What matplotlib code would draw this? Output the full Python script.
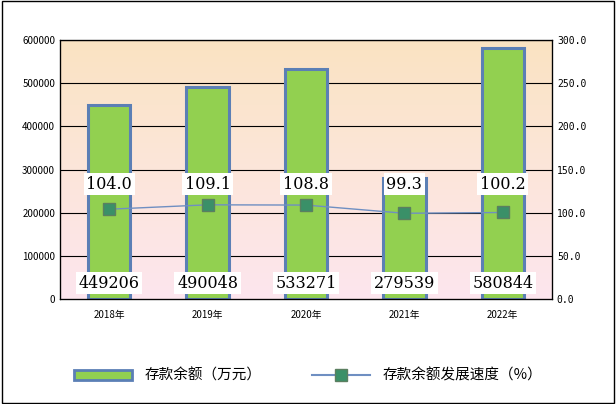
import numpy as np
import matplotlib.pyplot as plt
from matplotlib.patches import Rectangle
from matplotlib.lines import Line2D
from matplotlib.colors import LinearSegmentedColormap

plt.rcParams['font.family'] = ['Noto Sans CJK SC', 'DejaVu Sans']

years = ['2018年', '2019年', '2020年', '2021年', '2022年']
balance = [449206, 490048, 533271, 279539, 580844]
speed = [104.0, 109.1, 108.8, 99.3, 100.2]

fig = plt.figure(figsize=(6.16, 4.04), dpi=100)
fig.patches.append(Rectangle((0.003, 0.003), 0.994, 0.994, transform=fig.transFigure,
                             fill=False, edgecolor='black', linewidth=1))
ax = fig.add_axes([60/616, 1-299/404, 492/616, 259/404])
ax.set_xlim(-0.5, 4.5)
ax.set_ylim(0, 600000)

grad = np.linspace(0, 1, 256).reshape(-1, 1)
cmap = LinearSegmentedColormap.from_list('bg', ['#FDE5EE', '#FCE6DA', '#FAE3C2'])
ax.imshow(grad, extent=[-0.5, 4.5, 0, 600000], origin='lower', aspect='auto', cmap=cmap, zorder=0)

for yv in range(100000, 600001, 100000):
    ax.axhline(yv, color='black', linewidth=0.8, zorder=1)

x = np.arange(len(years))
ax.bar(x, balance, width=0.43, color='#92D050', edgecolor='#5B7FB5', linewidth=2.2, zorder=2)
for xi, v in zip(x, balance):
    ax.text(xi, 37000, str(v), ha='center', va='center', fontsize=11.5, family='DejaVu Serif',
            bbox=dict(facecolor='white', edgecolor='none', pad=2), zorder=5)

ax.set_xticks(x)
ax.set_xticklabels(years, fontsize=7)
ax.set_yticks(range(0, 600001, 100000))
ax.tick_params(axis='y', labelsize=7, length=0)
ax.tick_params(axis='x', length=0, pad=8)
for s in ax.spines.values():
    s.set_linewidth(0.9)

ax2 = ax.twinx()
ax2.set_ylim(0, 300)
ax2.set_yticks(range(0, 301, 50))
ax2.set_yticklabels(['%.1f' % t for t in range(0, 301, 50)], fontsize=7, family='DejaVu Sans Mono')
ax2.tick_params(axis='y', length=0)
ax2.plot(x, speed, color='#6F8FC2', linewidth=1, marker='s', markersize=8,
         markerfacecolor='#3A9068', markeredgecolor='#5B7F60', zorder=3)
for xi, v in zip(x, speed):
    ax2.text(xi, 133, '%.1f' % v, ha='center', va='center', fontsize=11.5, family='DejaVu Serif',
             bbox=dict(facecolor='white', edgecolor='none', pad=2), zorder=5)

handles = [Rectangle((0, 0), 1, 1, facecolor='#92D050', edgecolor='#5B7FB5', linewidth=2),
           Line2D([], [], color='#6F8FC2', marker='s', markersize=8,
                  markerfacecolor='#3A9068', markeredgecolor='#5B7F60')]
fig.legend(handles, ['存款余额（万元）', '存款余额发展速度（%）'], loc='lower center',
           bbox_to_anchor=(0.5, 0.02), ncol=2, frameon=False, fontsize=10.5,
           handlelength=4, columnspacing=3.5)

fig.savefig('out.png', dpi=100)
